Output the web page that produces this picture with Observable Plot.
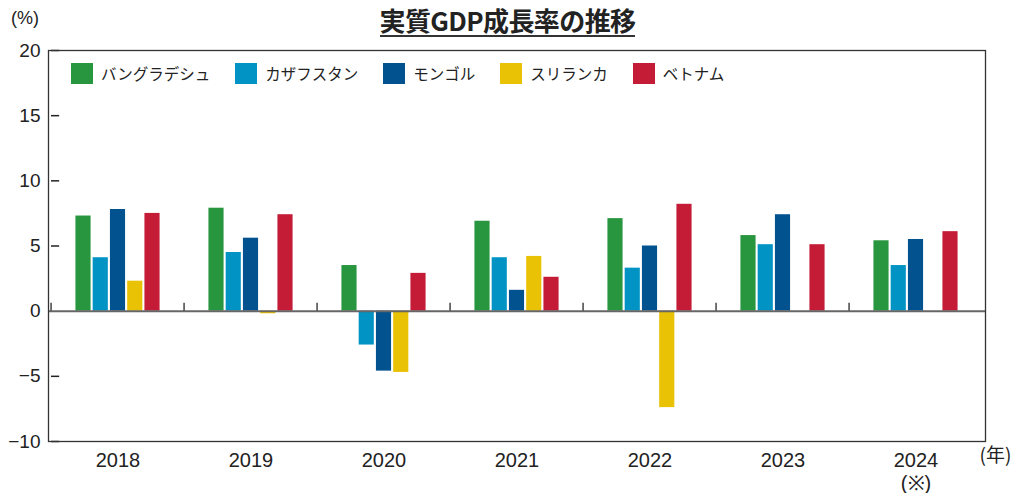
<!DOCTYPE html>
<html>
<head>
<meta charset="utf-8">
<script src="https://cdn.jsdelivr.net/npm/d3@7"></script>
<script src="https://cdn.jsdelivr.net/npm/@observablehq/plot@0.6"></script>
<style>
  body { margin: 0; background: #fff; }
  #wrap { position: relative; width: 1015px; height: 493px; overflow: hidden; font-family: "Noto Sans CJK JP", sans-serif; }
  #header { position: relative; height: 36px; }
  #title { position: absolute; left: 0; right: 0; top: 1px; text-align: center; font-size: 26px; font-weight: bold; color: #222; letter-spacing: -0.6px; }
  #title span { border-bottom: 2px solid #333; line-height: 31px; display: inline-block; }
  #unit { position: absolute; left: 11px; top: 8px; font-family: "Liberation Sans", Arial, sans-serif; font-size: 18px; color: #222; }
  #legend { position: absolute; left: 71px; top: 62px; display: flex; gap: 25px; align-items: center; }
  .item { display: flex; align-items: center; gap: 8px; font-size: 15.5px; color: #222; }
  .sw { width: 22px; height: 21px; }
</style>
</head>
<body>
<div id="wrap">
  <div id="header"><div id="unit">(%)</div><div id="title"><span>実質GDP成長率の推移</span></div></div>
  <div id="chart"></div>
  <div id="legend"></div>
</div>
<script>
const years = ["2018", "2019", "2020", "2021", "2022", "2023", "2024"];
const yearLabels = ["2018", "2019", "2020", "2021", "2022", "2023", "2024\n(※)"];
const countries = ["バングラデシュ", "カザフスタン", "モンゴル", "スリランカ", "ベトナム"];
const colors = ["#27963f", "#0093c4", "#02528f", "#e9c105", "#c41b37"];
const bangladesh = [7.3, 7.9, 3.5, 6.9, 7.1, 5.8, 5.4];
const kazakhstan = [4.1, 4.5, -2.6, 4.1, 3.3, 5.1, 3.5];
const mongolia   = [7.8, 5.6, -4.6, 1.6, 5.0, 7.4, 5.5];
const srilanka   = [2.3, -0.2, -4.7, 4.2, -7.4, null, null];
const vietnam    = [7.5, 7.4, 2.9, 2.6, 8.2, 5.1, 6.1];
const yTicks = [-10, -5, 0, 5, 10, 15, 20];

const series = [bangladesh, kazakhstan, mongolia, srilanka, vietnam];
const rows = [];
series.forEach((vals, ci) => vals.forEach((v, yi) => {
  if (v != null) rows.push({year: years[yi], country: countries[ci], value: v, ci});
}));

const W = 1015, H = 457, mL = 48, mR = 30, mT = 14, mB = 52;
const fw = W - mL - mR;
const bw = fw / years.length;
const barW = 16, step = 17.25;
const groupStart = (bw - (step * (countries.length - 1) + barW)) / 2;
const numFont = '"Liberation Sans", Arial, sans-serif';
const tickPx = 8;
const tickData = tickPx * 30 / (H - mT - mB);

const barMarks = countries.map((c, ci) => {
  const left = groupStart + ci * step;
  return Plot.barY(rows.filter(d => d.ci === ci), {
    x: "year", y: "value", fill: colors[ci],
    insetLeft: left, insetRight: bw - left - barW
  });
});

const innerTicks = yTicks.filter(t => t !== 0);

const chart = Plot.plot({
  width: W, height: H,
  marginLeft: mL, marginRight: mR, marginTop: mT, marginBottom: mB,
  style: {fontFamily: numFont, fontSize: "19px", color: "#222", background: "#fff"},
  x: {domain: years, padding: 0, label: null},
  y: {domain: [-10, 20], label: null},
  marks: [
    ...barMarks,
    Plot.ruleY([0], {stroke: "#666", strokeWidth: 2}),
    Plot.ruleX(years, {x: d => d, y1: 0, y2: tickData, dx: -bw / 2, stroke: "#444", strokeWidth: 1.5}),
    Plot.ruleY(innerTicks, {y: d => d, x1: () => years[0], x2: () => years[0], insetRight: bw - 9, stroke: "#222", strokeWidth: 1.5}),
    Plot.frame({stroke: "#333", strokeWidth: 1.3}),
    Plot.axisY({ticks: yTicks, tickSize: 0, tickPadding: 8, fontSize: 19, label: null}),
    Plot.axisX({tickSize: 0, tickPadding: 10, fontSize: 20, lineHeight: 1.12, label: null,
      tickFormat: d => yearLabels[years.indexOf(d)]}),
    Plot.text(["(年)"], {frameAnchor: "bottom-right", dx: 10, dy: 20, fontSize: 19, textAnchor: "middle",
      fontFamily: '"Noto Sans CJK JP", sans-serif'})
  ]
});
document.getElementById("chart").appendChild(chart);

const legend = document.getElementById("legend");
countries.forEach((c, i) => {
  const it = document.createElement("div");
  it.className = "item";
  it.innerHTML = `<div class="sw" style="background:${colors[i]}"></div><span>${c}</span>`;
  legend.appendChild(it);
});
</script>
</body>
</html>
